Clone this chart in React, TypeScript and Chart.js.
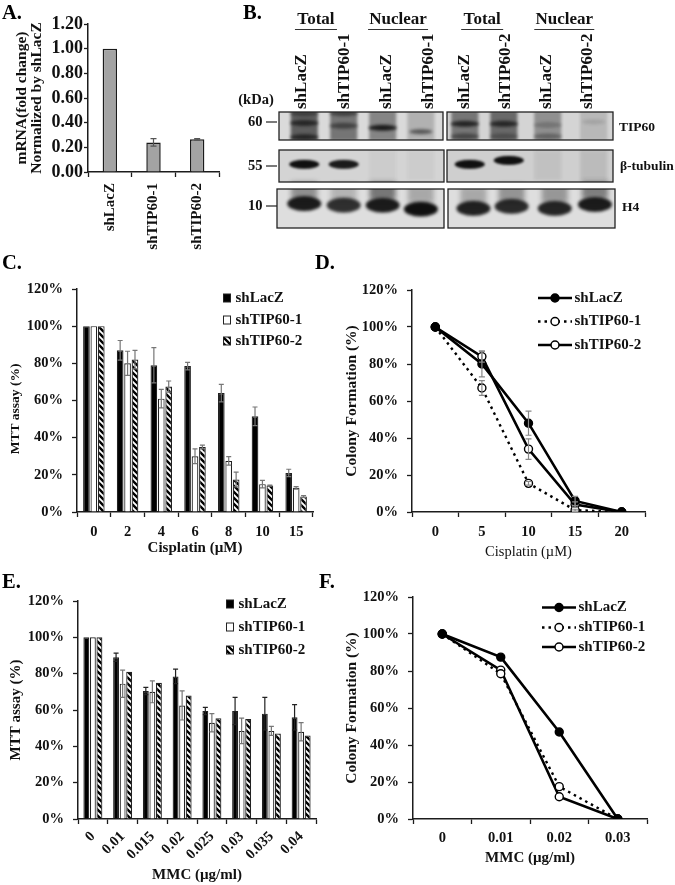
import React, { useEffect, useRef } from "react";
import { Chart, registerables } from "chart.js";

Chart.register(...registerables);

const SERIF = "'Liberation Serif'";
const INK = "#1c1c1c";

// Panel A
const aCategories = ["shLacZ", "shTIP60-1", "shTIP60-2"];
const aValues = [1.0, 0.24, 0.265];
const aErrors = [0, 0.03, 0.006];

// Panel C
const cCategories = ["0", "2", "4", "6", "8", "10", "15"];
const cLacZ = [100, 87, 79, 78.5, 64, 51.5, 21];
const cTip1 = [100, 80, 61, 30, 27.5, 15, 13];
const cTip2 = [100, 82, 67.5, 35, 17.5, 14.3, 8.3];
const cLacZErr = [0, 5.3, 9.5, 2, 4.7, 5, 2];
const cTip1Err = [0, 6.5, 5, 4, 2.3, 2, 0.7];
const cTip2Err = [0, 5, 3, 1, 4, 0.2, 0.5];

// Panel D
const dCategories = ["0", "5", "10", "15", "20"];
const dLacZ = [100, 80, 48, 6, 0];
const dTip1 = [100, 67, 15.5, 1, 0];
const dTip2 = [100, 84, 34, 4, 0];
const dLacZErr = [0, 7, 6.5, 2.5, 0];
const dTip1Err = [0, 4, 1, 0.5, 0];
const dTip2Err = [0, 3, 5.5, 1.5, 0];

// Panel E
const eCategories = ["0", "0.01", "0.015", "0.02", "0.025", "0.03", "0.035", "0.04"];
const eLacZ = [100, 89, 70.5, 78.5, 59.5, 59.5, 58, 56];
const eTip1 = [100, 74.5, 70, 62.5, 53, 48.5, 48.5, 48];
const eTip2 = [100, 81, 75, 68, 55.5, 55, 47, 46];
const eLacZErr = [0, 2.3, 2, 4, 2, 7.5, 9, 7];
const eTip1Err = [0, 7.5, 6, 8, 5, 7, 2.5, 5];

// Panel F
const fCategories = ["0", "0.01", "0.02", "0.03"];
const fLacZ = [100, 87.5, 47, 0];
const fTip1 = [100, 78.5, 17.5, 0];
const fTip2 = [100, 80.5, 12, 0];

// Panel B: [lane, blot row, density, band kind]
const blotBands: [number, number, number, string][] = [
  [0.02, 0, 0.62, "smear"], [0.98, 0, 0.5, "smear"], [1.93, 0, 0.42, "smear"], [2.86, 0, 0.2, "smear"],
  [3.93, 0, 0.48, "smear"], [4.88, 0, 0.55, "smear"], [5.95, 0, 0.34, "smear"], [7.07, 0, 0.14, "smear"],
  [0.02, -0.07, 0.7, "band"], [0.02, 0.29, 0.7, "band"], [0.02, -0.32, 0.4, "band"],
  [0.98, 0, 0.5, "band"], [0.98, -0.32, 0.5, "band"],
  [1.93, 0.05, 0.9, "band"], [2.86, 0.15, 0.55, "thin"],
  [3.93, -0.05, 0.8, "band"], [3.93, 0.27, 0.45, "band"],
  [4.88, -0.05, 0.75, "band"], [4.88, 0.27, 0.3, "band"],
  [5.95, -0.02, 0.22, "band"], [5.95, 0.27, 0.35, "band"], [7.07, -0.1, 0.12, "thin"],
  [5.95, 1, 0.07, "smear"], [7.07, 1, 0.1, "smear"], [1.93, 1, 0.04, "smear"], [2.86, 1, 0.04, "smear"],
  [0.02, 0.98, 1, "tubulin"], [0.98, 0.98, 0.95, "tubulin"], [4.05, 0.98, 1, "tubulin"], [5.0, 0.88, 1, "tubulin"],
  [0.02, 1.66, 0.38, "haze"], [0.98, 1.7, 0.2, "haze"], [1.93, 1.66, 0.5, "haze"], [2.86, 1.74, 0.26, "haze"],
  [4.14, 1.78, 0.26, "haze"], [5.07, 1.72, 0.36, "haze"], [6.12, 1.74, 0.34, "haze"], [7.1, 1.64, 0.46, "haze"],
  [0.02, 1.98, 0.95, "histone"], [0.98, 2.02, 0.85, "histone"], [1.93, 2.02, 0.95, "histone"], [2.86, 2.12, 1, "histone"],
  [4.14, 2.1, 0.92, "histone"], [5.07, 2.05, 0.88, "histone"], [6.12, 2.1, 0.9, "histone"], [7.1, 2.0, 0.95, "histone"],
];
const laneLabels = ["shLacZ", "shTIP60-1", "shLacZ", "shTIP60-1", "shLacZ", "shTIP60-2", "shLacZ", "shTIP60-2"];
const kdaLabels = ["60", "55", "10"];
const proteinLabels = ["TIP60", "β-tubulin", "H4"];
const groupLabels = ["Total", "Nuclear", "Total", "Nuclear"];

const bandShapes: Record<string, { w: number; h: number; blur: number; box?: boolean }> = {
  smear: { w: 27, h: 30, blur: 1.8, box: true },
  band: { w: 28, h: 6, blur: 1.5 },
  thin: { w: 23, h: 5, blur: 1.5 },
  tubulin: { w: 30, h: 9, blur: 1.2 },
  histone: { w: 34, h: 15, blur: 1.6 },
  haze: { w: 26, h: 18, blur: 2.5, box: true },
};

function bandSprite(kind: string, density: number) {
  const s = bandShapes[kind];
  const c = document.createElement("canvas");
  c.width = s.w + 16;
  c.height = s.h + 16;
  const g = c.getContext("2d")!;
  g.filter = `blur(${s.blur}px)`;
  g.fillStyle = `rgba(16,16,16,${density})`;
  if (s.box) g.fillRect(8, 8, s.w, s.h);
  else {
    g.beginPath();
    g.ellipse(c.width / 2, c.height / 2, s.w / 2, s.h / 2, 0, 0, Math.PI * 2);
    g.fill();
  }
  return c;
}

function hatchPattern() {
  const c = document.createElement("canvas");
  c.width = 6;
  c.height = 6;
  const g = c.getContext("2d")!;
  g.fillStyle = "#fff";
  g.fillRect(0, 0, 6, 6);
  g.strokeStyle = "#000";
  g.lineWidth = 2.4;
  g.beginPath();
  for (let o = -6; o <= 6; o += 6) {
    g.moveTo(o - 1, -1);
    g.lineTo(o + 7, 7);
  }
  g.stroke();
  return g.createPattern(c, "repeat")!;
}

const errorBars = {
  id: "errorBars",
  afterDatasetsDraw(chart: any) {
    const { ctx } = chart;
    const y = chart.scales.y;
    chart.data.datasets.forEach((d: any, i: number) => {
      if (!d.err) return;
      const els = chart.getDatasetMeta(i).data;
      ctx.save();
      ctx.strokeStyle = d.errColor || "#777";
      ctx.lineWidth = 1.2;
      d.err.forEach((e: number, k: number) => {
        if (!e) return;
        const x = els[k].x;
        const hi = y.getPixelForValue(d.data[k] + e);
        const lo = y.getPixelForValue(d.data[k] - e);
        const cap = d.errCap ?? 2.5;
        ctx.beginPath();
        ctx.moveTo(x, hi);
        ctx.lineTo(x, lo);
        ctx.moveTo(x - cap, hi);
        ctx.lineTo(x + cap, hi);
        ctx.moveTo(x - cap, lo);
        ctx.lineTo(x + cap, lo);
        ctx.stroke();
      });
      ctx.restore();
    });
  },
};

const keyPlugin = {
  id: "keyPlugin",
  afterDraw(chart: any, _a: any, opts: any) {
    if (!opts || !opts.rows) return;
    const { ctx } = chart;
    const ox = chart.canvas.offsetLeft;
    const oy = chart.canvas.offsetTop;
    ctx.save();
    ctx.font = `bold ${opts.size || 15}px ${SERIF}`;
    ctx.textBaseline = "middle";
    ctx.textAlign = "left";
    chart.data.datasets.forEach((d: any, i: number) => {
      const yy = opts.rows[i] - oy;
      if (opts.kind === "bar") {
        const x0 = opts.x - ox;
        ctx.fillStyle = d.backgroundColor;
        ctx.strokeStyle = "#222";
        ctx.lineWidth = 1;
        ctx.fillRect(x0, yy - 4, 7, 8);
        ctx.strokeRect(x0, yy - 4, 7, 8);
        ctx.fillStyle = "#111";
        ctx.fillText(d.label, x0 + 12, yy);
      } else {
        const x0 = opts.x - ox;
        const w = 34;
        ctx.strokeStyle = "#000";
        ctx.lineWidth = d.borderWidth;
        ctx.setLineDash(d.borderDash || []);
        ctx.beginPath();
        ctx.moveTo(x0, yy);
        ctx.lineTo(x0 + w, yy);
        ctx.stroke();
        ctx.setLineDash([]);
        ctx.beginPath();
        ctx.arc(x0 + w / 2, yy, 4, 0, Math.PI * 2);
        ctx.fillStyle = d.pointBackgroundColor;
        ctx.lineWidth = 1.5;
        ctx.fill();
        ctx.stroke();
        ctx.fillStyle = "#111";
        ctx.fillText(d.label, x0 + w + 2.5, yy);
      }
    });
    ctx.restore();
  },
};

const blotFrames = [
  [279, 112, 443, 140], [447, 112, 613, 140],
  [279, 150, 444, 182], [447, 150, 613, 182],
  [277, 189, 444, 228], [448, 189, 615, 228],
];
const frameFill = ["#dadada", "#d4d4d4", "#d4d4d4", "#cfcfcf", "#dedede", "#dedede"];
const groupNudge = [-8, -8, -6, -6];
const laneNudge = [-2, 0, 1, 2, -3, -3, -3, -3];

const blotDecor = {
  id: "blotDecor",
  beforeDatasetsDraw(chart: any) {
    const { ctx } = chart;
    const ox = chart.canvas.offsetLeft;
    blotFrames.forEach((f, i) => {
      ctx.fillStyle = frameFill[i];
      ctx.fillRect(f[0] - ox, f[1], f[2] - f[0], f[3] - f[1]);
    });
  },
  afterDatasetsDraw(chart: any) {
    const { ctx, width, height } = chart;
    const ox = chart.canvas.offsetLeft;
    const xs = chart.scales.x;
    ctx.save();
    ctx.fillStyle = "#fff";
    ctx.beginPath();
    ctx.rect(0, 0, width, height);
    blotFrames.forEach((f) => ctx.rect(f[0] - ox, f[1], f[2] - f[0], f[3] - f[1]));
    ctx.fill("evenodd");
    ctx.strokeStyle = "#222";
    ctx.lineWidth = 1.3;
    blotFrames.forEach((f) => ctx.strokeRect(f[0] - ox, f[1], f[2] - f[0], f[3] - f[1]));

    ctx.fillStyle = "#111";
    ctx.textBaseline = "middle";
    // group headers
    ctx.font = `bold 17px ${SERIF}`;
    ctx.textAlign = "center";
    const spans = [[0, 1], [2, 3], [4, 5], [6, 7]];
    groupLabels.forEach((t, i) => {
      const a = xs.getPixelForValue(spans[i][0]);
      const b = xs.getPixelForValue(spans[i][1]);
      const mid = (a + b) / 2 + groupNudge[i];
      ctx.fillText(t, mid, 20);
      const half = i % 2 ? 30 : 21;
      ctx.strokeStyle = "#333";
      ctx.lineWidth = 1;
      ctx.beginPath();
      ctx.moveTo(mid - half, 29.5);
      ctx.lineTo(mid + half, 29.5);
      ctx.stroke();
    });
    // lane labels
    ctx.font = `bold 17px ${SERIF}`;
    ctx.textAlign = "left";
    laneLabels.forEach((t, i) => {
      ctx.save();
      ctx.translate(xs.getPixelForValue(i) + laneNudge[i], 109);
      ctx.rotate(-Math.PI / 2);
      ctx.fillText(t, 0, 0);
      ctx.restore();
    });
    // kDa and protein labels
    ctx.font = `bold 14.5px ${SERIF}`;
    ctx.textAlign = "center";
    ctx.fillText("(kDa)", 26, 100);
    const kdaY = [122, 166, 206];
    kdaLabels.forEach((t, i) => {
      ctx.textAlign = "left";
      ctx.fillText(t, 18, kdaY[i]);
      ctx.strokeStyle = "#222";
      ctx.lineWidth = 1.2;
      ctx.beginPath();
      ctx.moveTo(36, kdaY[i]);
      ctx.lineTo(47, kdaY[i]);
      ctx.stroke();
    });
    ctx.font = `bold 13.5px ${SERIF}`;
    const protX = [389, 390, 392];
    const protY = [128, 167, 208];
    proteinLabels.forEach((t, i) => {
      ctx.fillText(t, protX[i], protY[i]);
    });
    ctx.restore();
  },
};

type Box = { left: number; top: number; right: number; bottom: number };

function axes(box: Box, plot: Box, o: any) {
  return {
    x: {
      type: "category",
      offset: true,
      grid: { offset: true, drawOnChartArea: false, drawTicks: true, tickLength: 5, tickColor: INK, tickWidth: 1.3 },
      border: { color: INK, width: 1.5 },
      ticks: {
        color: "#111",
        font: { family: SERIF, weight: "bold", size: o.xTick || 14.5 },
        padding: o.xPad ?? 7,
        autoSkip: false,
        minRotation: o.rot || 0,
        maxRotation: o.rot || 0,
      },
      title: o.xTitle
        ? {
            display: true,
            text: o.xTitle,
            color: "#111",
            padding: 0,
            font: { family: SERIF, weight: o.xWeight || "bold", size: o.xSize || 15 },
          }
        : { display: false },
      afterFit: (s: any) => { s.height = box.bottom - plot.bottom; },
    },
    y: {
      min: 0,
      max: o.max ?? 120,
      ticks: {
        stepSize: o.step ?? 20,
        color: "#111",
        padding: o.yPad ?? 9,
        font: { family: SERIF, weight: "bold", size: o.yTick || 14.5 },
        callback: o.yFmt || ((v: number) => v + "%"),
      },
      grid: { drawOnChartArea: false, tickLength: o.yTickLen ?? 5, tickColor: INK, tickWidth: 1.3 },
      border: { color: INK, width: 1.5 },
      title: {
        display: true,
        text: o.yTitle,
        color: "#111",
        padding: { top: o.yTitlePad ?? 6, bottom: 0 },
        font: { family: SERIF, weight: "bold", size: o.ySize || 14, lineHeight: o.yLine || 1.2 },
      },
      afterFit: (s: any) => { s.width = plot.left - box.left; },
    },
  };
}

function baseOptions(box: Box, plot: Box, o: any, key?: any) {
  return {
    responsive: false,
    animation: false,
    devicePixelRatio: 1,
    layout: { padding: { top: plot.top - box.top, right: box.right - plot.right, left: 0, bottom: 0 } },
    plugins: { legend: { display: false }, tooltip: { enabled: false }, keyPlugin: key || {} },
    scales: axes(box, plot, o),
  };
}

const boxA = { left: 0, top: 10, right: 230, bottom: 250 };
const plotA = { left: 88, top: 24, right: 219, bottom: 172 };
const boxC = { left: 0, top: 270, right: 335, bottom: 557 };
const plotC = { left: 77, top: 289, right: 313, bottom: 512 };
const boxD = { left: 335, top: 270, right: 675, bottom: 561 };
const plotD = { left: 412, top: 290, right: 645, bottom: 512 };
const boxE = { left: 0, top: 580, right: 335, bottom: 884 };
const plotE = { left: 78, top: 601, right: 316, bottom: 819 };
const boxF = { left: 335, top: 578, right: 675, bottom: 867 };
const plotF = { left: 413, top: 597, right: 647, bottom: 819 };
const boxB = { left: 230, top: 0, right: 675, bottom: 240 };

const panelLetters: [string, number, number][] = [
  ["A.", 2, 0], ["B.", 243, 0], ["C.", 2, 250], ["D.", 315, 250], ["E.", 2, 569], ["F.", 319, 569],
];

function barSets(lac: number[], t1: number[], t2: number[], e0: number[], e1: number[], e2: number[] | null, hatch: any, c0: string) {
  const common = { borderColor: "#222", borderWidth: 1.2, categoryPercentage: 0.66, barPercentage: 0.9 };
  return [
    { label: "shLacZ", data: lac, backgroundColor: "#000", err: e0, errColor: c0, ...common },
    { label: "shTIP60-1", data: t1, backgroundColor: "#fff", err: e1, errColor: "#777", ...common },
    { label: "shTIP60-2", data: t2, backgroundColor: hatch, err: e2, errColor: "#777", ...common },
  ];
}

function lineSets(lac: number[], t1: number[], t2: number[], e0?: number[], e1?: number[], e2?: number[]) {
  const common = {
    borderColor: "#000",
    pointBorderColor: "#000",
    pointBorderWidth: 1.4,
    pointRadius: 4,
    tension: 0,
    fill: false,
    errColor: "#888",
    errCap: 3,
  };
  return [
    { label: "shLacZ", data: lac, borderWidth: 2.6, pointBackgroundColor: "#000", err: e0, ...common },
    { label: "shTIP60-1", data: t1, borderWidth: 2.4, borderDash: [2.5, 4], pointBackgroundColor: "#fff", err: e1, ...common },
    { label: "shTIP60-2", data: t2, borderWidth: 2.6, pointBackgroundColor: "#fff", err: e2, ...common },
  ];
}

export default function App() {
  const refs = useRef<Record<string, HTMLCanvasElement | null>>({});

  useEffect(() => {
    const hatch = hatchPattern();
    const charts: Chart[] = [];
    const add = (name: string, cfg: any) => {
      charts.push(new Chart(refs.current[name]!, cfg));
    };

    add("A", {
      type: "bar",
      data: {
        labels: aCategories,
        datasets: [{
          label: "mRNA", data: aValues, backgroundColor: "#a3a3a3", borderColor: "#1a1a1a", borderWidth: 1.5,
          barPercentage: 0.33, categoryPercentage: 1, err: aErrors, errColor: "#555", errCap: 3,
        }],
      },
      options: baseOptions(boxA, plotA, {
        rot: 90, xTick: 15, xPad: 6, max: 1.2, step: 0.2, yTick: 18, yPad: 1, yTickLen: 4,
        yFmt: (v: number) => v.toFixed(2),
        yTitle: ["mRNA(fold change)", "Normalized by shLacZ"], ySize: 15.5, yLine: 1, yTitlePad: 14,
      }),
      plugins: [errorBars],
    });

    add("C", {
      type: "bar",
      data: { labels: cCategories, datasets: barSets(cLacZ, cTip1, cTip2, cLacZErr, cTip1Err, cTip2Err, hatch, "#777") },
      options: baseOptions(boxC, plotC, { xTitle: "Cisplatin (µM)", yTitle: "MTT assay (%)     ", ySize: 13.5, yTitlePad: 7 },
        { kind: "bar", x: 223.5, rows: [298, 320, 341] }),
      plugins: [errorBars, keyPlugin],
    });

    add("D", {
      type: "line",
      data: { labels: dCategories, datasets: lineSets(dLacZ, dTip1, dTip2, dLacZErr, dTip1Err, dTip2Err) },
      options: baseOptions(boxD, plotD, {
        xTitle: "Cisplatin (µM)", xWeight: "normal", xSize: 14.5, yTitle: "Colony Formation (%)", ySize: 15.5, yTitlePad: 8,
      }, { kind: "line", x: 538, rows: [298, 321.5, 345] }),
      plugins: [errorBars, keyPlugin],
    });

    add("E", {
      type: "bar",
      data: { labels: eCategories, datasets: barSets(eLacZ, eTip1, eTip2, eLacZErr, eTip1Err, null, hatch, "#222") },
      options: baseOptions(boxE, plotE, { rot: 45, xPad: 4, xTitle: "MMC (µg/ml)", yTitle: "MTT assay (%)", ySize: 15, yTitlePad: 7 },
        { kind: "bar", x: 226.5, rows: [604, 627, 650] }),
      plugins: [errorBars, keyPlugin],
    });

    add("F", {
      type: "line",
      data: { labels: fCategories, datasets: lineSets(fLacZ, fTip1, fTip2) },
      options: baseOptions(boxF, plotF, { xPad: 6, xTitle: "MMC (µg/ml)", yTitle: "Colony Formation (%)", ySize: 15.5, yTitlePad: 8 },
        { kind: "line", x: 542, rows: [607.5, 627.5, 647] }),
      plugins: [errorBars, keyPlugin],
    });

    const sprites = blotBands.map((b) => bandSprite(b[3], b[2]));
    const lanePx = 42;
    const rowPx = 41;
    add("B", {
      type: "scatter",
      data: {
        datasets: [{
          label: "Western blot",
          data: blotBands.map((b) => ({ x: b[0], y: b[1] })),
          pointStyle: (c: any) => sprites[c.dataIndex],
          pointRadius: 3,
        }],
      },
      options: {
        responsive: false,
        animation: false,
        devicePixelRatio: 1,
        layout: { padding: 0 },
        plugins: { legend: { display: false }, tooltip: { enabled: false } },
        scales: {
          x: { type: "linear", display: false, min: -70 / lanePx, max: 375 / lanePx },
          y: { type: "linear", display: false, reverse: true, min: -126 / rowPx, max: 114 / rowPx },
        },
      },
      plugins: [blotDecor],
    });

    return () => charts.forEach((c) => c.destroy());
  }, []);

  const boxes: Record<string, Box> = { A: boxA, B: boxB, C: boxC, D: boxD, E: boxE, F: boxF };
  return (
    <div style={{ position: "absolute", left: 0, top: 0, width: 675, height: 885, background: "#fff", overflow: "hidden" }}>
      {Object.keys(boxes).map((k) => {
        const b = boxes[k];
        return (
          <canvas
            key={k}
            ref={(el) => { refs.current[k] = el; }}
            width={b.right - b.left}
            height={b.bottom - b.top}
            style={{ position: "absolute", left: b.left, top: b.top, width: b.right - b.left, height: b.bottom - b.top }}
          />
        );
      })}
      {panelLetters.map(([t, x, y]) => (
        <div key={t} style={{ position: "absolute", left: x, top: y, font: `bold 20.5px/24px ${SERIF}`, color: "#000" }}>{t}</div>
      ))}
    </div>
  );
}
